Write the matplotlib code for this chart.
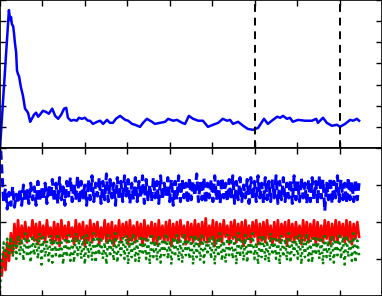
import numpy as np
import matplotlib
matplotlib.use("Agg")
import matplotlib.pyplot as plt

# ---- top panel: smoothed trace ----
top_x = [0.00,0.21,0.24,0.26,0.28,0.31,0.33,0.35,0.38,0.40,
         0.42,0.45,0.49,0.54,0.59,0.61,0.66,0.71,0.75,0.80,
         0.85,0.90,0.94,1.01,1.08,1.15,1.23,1.30,1.37,1.44,
         1.51,1.56,1.60,1.67,1.74,1.81,1.86,1.93,2.00,2.07,
         2.12,2.19,2.29,2.36,2.43,2.52,2.59,2.66,2.73,2.83,
         2.95,3.02,3.11,3.18,3.30,3.37,3.46,3.58,3.65,3.77,
         3.89,3.96,4.08,4.17,4.29,4.36,4.45,4.55,4.67,4.78,
         4.90,5.02,5.14,5.25,5.35,5.42,5.49,5.61,5.73,5.84,
         5.96,6.08,6.22,6.31,6.43,6.53,6.60,6.67,6.76,6.83,
         6.90,7.02,7.19,7.35,7.45,7.49,7.61,7.70,7.82,7.94,
         8.01,8.13,8.25,8.32,8.41,8.46]
top_y = [0.00,6.52,6.05,6.19,5.86,5.76,5.43,5.00,4.52,3.67,
         3.52,3.38,2.90,2.48,1.86,1.81,1.67,1.24,1.38,1.57,
         1.67,1.48,1.57,1.76,1.71,1.62,1.86,1.52,1.38,1.57,
         1.86,1.90,1.43,1.29,1.33,1.29,1.43,1.38,1.43,1.29,
         1.29,1.14,1.24,1.29,1.14,1.33,1.19,1.19,1.38,1.52,
         1.33,1.29,1.14,1.10,1.00,1.19,1.38,1.24,1.14,1.19,
         1.24,1.38,1.29,1.33,1.19,1.14,1.52,1.38,1.29,1.29,
         1.00,1.10,1.19,1.38,1.29,1.33,1.14,1.24,1.05,0.90,
         0.86,0.95,1.38,1.14,1.33,1.48,1.43,1.52,1.38,1.43,
         1.24,1.33,1.29,1.29,1.38,1.19,1.43,1.19,1.05,1.10,
         1.00,1.14,1.33,1.29,1.38,1.29]
vlines_x = [6.0, 8.0]

# ---- bottom panel: three noisy traces ----
blue_vals = [4.30,3.40,2.55,2.90,2.35,2.80,2.45,2.95,2.40,2.75,
             2.50,2.90,2.45,3.00,2.55,2.85,2.50,3.05,2.60,2.95,
             2.45,3.10,2.55,2.95,2.60,3.05,2.50,3.00,2.65,3.15,
             2.55,3.05,2.50,3.20,2.60,2.95,2.45,3.10,2.70,3.20,
             2.55,3.05,2.60,3.25,2.50,3.10,2.65,3.00,2.45,3.15,
             2.60,3.25,2.55,3.05,2.70,3.20,2.50,3.10,2.60,3.30,
             2.55,3.15,2.65,3.05,2.45,3.20,2.60,3.10,2.55,3.25,
             2.70,3.15,2.50,3.05,2.60,3.20,2.55,3.10,2.65,3.25,
             2.50,3.15,2.60,3.00,2.55,3.20,2.65,3.10,2.50,3.25,
             2.60,3.05,2.70,3.20,2.55,3.15,2.45,3.10,2.60,3.25,
             2.55,3.15,2.65,3.05,2.50,3.20,2.60,3.10,2.70,3.30,
             2.55,3.10,2.60,3.20,2.50,3.05,2.65,3.15,2.55,3.25,
             2.60,3.10,2.50,3.20,2.65,3.05,2.55,3.15,2.60,3.25,
             2.50,3.10,2.60,3.20,2.55,3.00,2.65,3.15,2.50,3.20,
             2.60,3.10,2.55,3.25,2.65,3.05,2.50,3.20,2.60,3.10,
             2.55,3.15,2.65,3.25,2.50,3.10,2.60,3.20,2.55,3.05,
             2.65,3.15,2.50,3.25,2.60,3.10,2.55,3.20,2.65,3.05,
             2.50,3.15,2.55,3.20,2.60,3.10,2.50,3.25,2.65,3.15,
             2.30,3.05,2.60,3.20,2.50,3.10,2.65,3.25,2.55,3.15,
             2.60,3.05,2.50,3.20,2.60,3.10,2.55,3.15,2.60,3.05]
red_vals = [0.90,0.55,1.20,0.70,1.45,0.95,1.70,1.15,1.95,1.30,
            2.05,1.40,1.90,1.55,2.00,1.45,1.85,1.60,2.05,1.50,
            1.95,1.40,2.00,1.55,1.90,1.45,2.05,1.60,1.85,1.40,
            2.00,1.50,1.95,1.35,2.05,1.55,1.90,1.45,2.00,1.60,
            1.85,1.40,2.05,1.50,1.95,1.55,2.00,1.35,1.90,1.50,
            2.05,1.45,1.95,1.60,2.00,1.40,1.85,1.55,2.05,1.45,
            1.95,1.50,2.00,1.35,1.90,1.55,2.05,1.45,1.95,1.60,
            2.00,1.40,2.05,1.50,1.90,1.45,2.00,1.55,1.95,1.35,
            2.05,1.50,1.90,1.60,2.00,1.45,1.95,1.40,2.05,1.55,
            1.90,1.45,2.00,1.50,2.05,1.35,1.95,1.55,2.00,1.45,
            2.05,1.60,1.90,1.40,2.00,1.50,1.95,1.45,2.05,1.55,
            1.95,1.40,2.00,1.50,2.10,1.45,1.90,1.55,2.05,1.35,
            2.00,1.50,1.95,1.45,2.05,1.60,1.90,1.40,2.00,1.55,
            2.05,1.45,1.95,1.50,2.00,1.35,2.05,1.55,1.90,1.45,
            2.00,1.60,2.05,1.40,1.95,1.50,2.00,1.45,2.05,1.55,
            1.90,1.40,2.00,1.50,2.05,1.45,1.95,1.60,2.00,1.35,
            2.05,1.50,1.95,1.45,2.00,1.55,1.90,1.40,2.05,1.50,
            2.00,1.45,1.95,1.55,2.05,1.40,2.00,1.50,1.90,1.45,
            2.05,1.55,2.00,1.40,1.95,1.50,2.05,1.45,2.00,1.60,
            1.95,1.45,2.05,1.50,2.00,1.40,1.95,1.55,2.00,1.60]
green_vals = [0.20,0.85,1.45,1.05,1.55,1.15,1.60,1.05,1.50,1.00,
              1.65,1.10,1.55,0.95,1.70,1.05,1.50,0.90,1.65,1.10,
              1.55,1.00,1.70,0.85,1.60,1.05,1.50,0.95,1.65,0.90,
              1.55,1.10,1.70,1.00,1.45,0.85,1.60,1.05,1.65,0.95,
              1.50,0.90,1.70,1.10,1.55,1.00,1.60,0.85,1.65,1.05,
              1.50,0.95,1.70,0.90,1.55,1.10,1.60,1.00,1.45,0.85,
              1.65,1.05,1.55,0.95,1.70,0.90,1.50,1.10,1.60,1.00,
              1.65,0.85,1.55,1.05,1.70,0.95,1.50,0.90,1.65,1.10,
              1.55,1.00,1.60,0.85,1.70,1.05,1.50,0.95,1.65,0.90,
              1.55,1.10,1.70,1.00,1.45,0.85,1.60,1.05,1.65,0.95,
              1.50,0.90,1.70,1.10,1.55,1.00,1.60,0.85,1.65,1.05,
              1.55,0.95,1.70,0.90,1.50,1.10,1.60,1.00,1.65,0.85,
              1.55,1.05,1.70,0.95,1.50,0.90,1.65,1.10,1.55,1.00,
              1.60,0.85,1.70,1.05,1.50,0.95,1.65,0.90,1.55,1.10,
              1.70,1.00,1.45,0.85,1.60,1.05,1.65,0.95,1.50,0.90,
              1.70,1.10,1.55,1.00,1.60,0.85,1.65,1.05,1.55,0.95,
              1.70,0.90,1.50,1.10,1.60,1.00,1.65,0.85,1.55,1.05,
              1.70,0.95,1.50,0.90,1.65,1.10,1.55,1.00,1.60,0.85,
              1.70,1.05,1.50,0.95,1.65,0.90,1.55,1.10,1.70,1.00,
              1.60,0.85,1.65,1.05,1.55,0.95,1.70,0.90,1.50,1.10]
bottom_x_end = 8.46

fig = plt.figure(figsize=(3.82, 2.96), dpi=100)
ax1 = fig.add_axes([0, 0.5, 1, 0.5])
ax2 = fig.add_axes([0, 0, 1, 0.5])

ax1.plot(top_x, top_y, color='#0000ff', lw=1.8)
for vx in vlines_x:
    ax1.axvline(vx, color='black', ls='--', lw=1.4, dashes=(4, 3))
ax1.set_xlim(0, 9)
ax1.set_ylim(0, 7)
ax1.set_yticks(range(0, 8))

ax2.plot(np.linspace(0, bottom_x_end, len(blue_vals)), blue_vals,
         color='#0000ff', ls='--', lw=2.2, dashes=(3, 1.5))
ax2.plot(np.linspace(0, bottom_x_end, len(red_vals)), red_vals,
         color='#ff0000', ls='-', lw=1.9)
ax2.plot(np.linspace(0, bottom_x_end, len(green_vals)), green_vals,
         color='#008000', ls=':', lw=1.8)
ax2.set_xlim(0, 9)
ax2.set_ylim(0, 4)
ax2.set_yticks(range(0, 5))

for ax in (ax1, ax2):
    ax.set_xticks(range(0, 10))
    ax.tick_params(direction='in', length=4, width=1, top=True, right=True,
                   labelleft=False, labelbottom=False)
    for s in ax.spines.values():
        s.set_linewidth(1.2)
        s.set_color('black')

fig.savefig('out.png', dpi=100)
